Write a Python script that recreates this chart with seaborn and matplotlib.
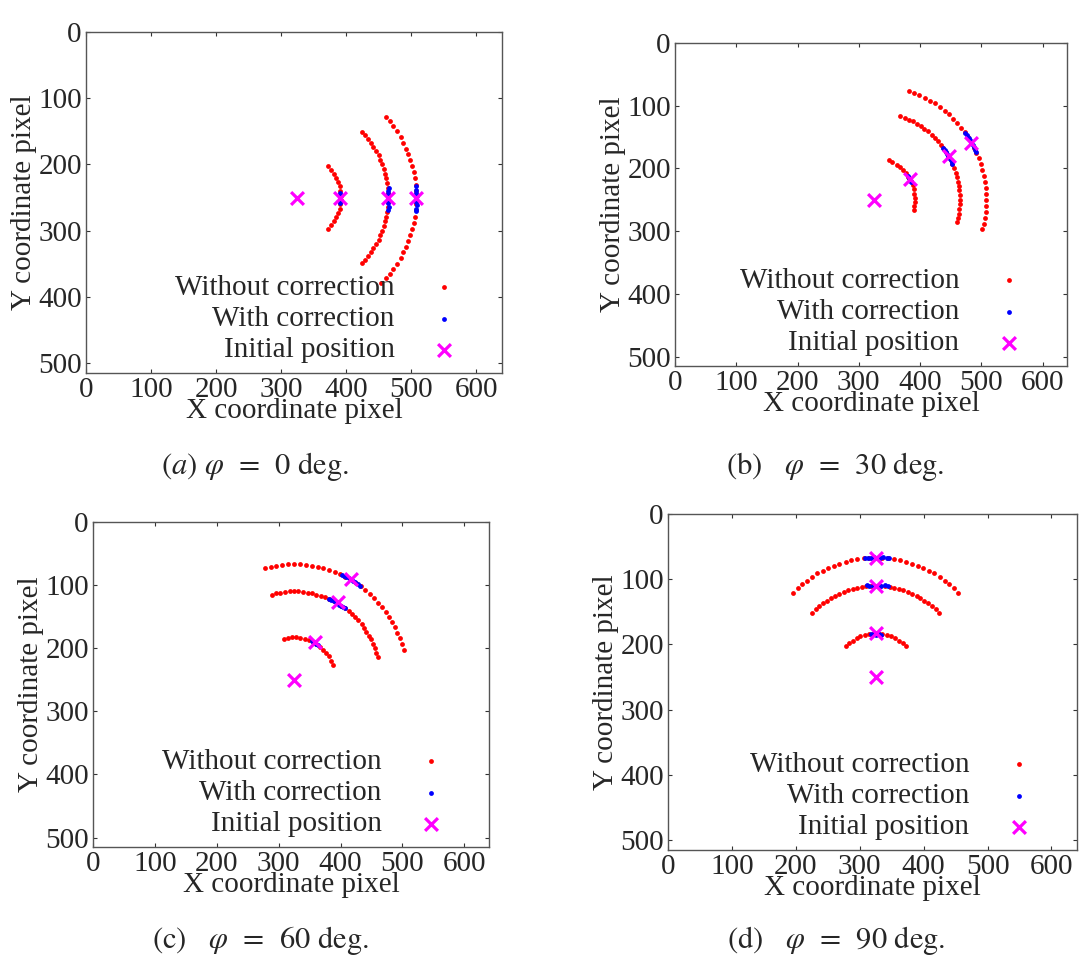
import matplotlib
matplotlib.use("Agg")
import matplotlib.pyplot as plt
import seaborn as sns

# ---------------- data (pixel coordinates) ----------------
x_ticks = [0, 100, 200, 300, 400, 500, 600]
y_ticks = [0, 100, 200, 300, 400, 500]
x_max = 640
y_max = 515

series_labels = ["Without correction", "With correction", "Initial position"]
captions = [r"$(a)$ $\varphi$  =  0 deg.", r"(b)   $\varphi$  =  30 deg.",
            r"(c)   $\varphi$  =  60 deg.", r"(d)   $\varphi$  =  90 deg."]

# panel (a) phi = 0
a_wo_x = [461, 467, 473, 479, 484, 488, 492, 496, 499, 502, 504, 506, 507, 508, 508, 508, 507, 506, 504, 502,
          499, 496, 492, 488, 484, 479, 473, 467, 461, 454,
          424, 429, 434, 438, 442, 446, 450, 453, 456, 458, 460, 462, 463, 464, 465, 465, 465, 464, 463, 462,
          460, 458, 456, 453, 450, 446, 442, 438, 434, 429, 424,
          372, 377, 381, 385, 388, 390, 391, 392, 392, 391, 390, 388, 385, 381, 377, 372]
a_wo_y = [128, 135, 142, 150, 158, 167, 176, 184, 193, 203, 212, 221, 231, 240, 250, 260, 269, 279, 288, 297,
          307, 316, 324, 333, 342, 350, 358, 365, 372, 379,
          151, 156, 162, 168, 174, 180, 186, 193, 200, 207, 214, 221, 228, 235, 243, 250, 257, 265, 272, 279,
          286, 293, 300, 307, 314, 320, 326, 332, 338, 344, 349,
          203, 208, 214, 220, 226, 233, 240, 247, 253, 260, 267, 274, 280, 286, 292, 297]
a_w_x = [507, 508, 508, 509, 508, 508, 509, 508, 507,
         466, 465, 465, 464, 465, 465, 466, 465,
         391, 391, 390, 391, 390]
a_w_y = [233, 238, 243, 247, 252, 257, 262, 267, 271,
         236, 240, 245, 249, 254, 259, 264, 269,
         243, 247, 251, 255, 258]
a_init_x = [325, 390, 465, 508]
a_init_y = [250, 250, 250, 250]

# panel (b) phi = 30
b_wo_x = [382, 391, 399, 408, 417, 425, 433, 440, 447, 454, 461, 467, 473, 479, 484, 488, 492, 496, 499, 502,
          504, 506, 507, 508, 508, 508, 507, 506, 504, 502,
          368, 375, 382, 389, 395, 401, 407, 413, 419, 424, 429, 434, 438, 442, 446, 450, 453, 456, 458, 460,
          462, 463, 464, 465, 465, 465, 464, 463, 462, 460,
          349, 355, 362, 367, 372, 377, 381, 385, 388, 390, 391, 392, 392, 391, 390]
b_wo_y = [76, 79, 83, 87, 92, 96, 102, 108, 114, 121, 128, 135, 142, 150, 158, 167, 176, 184, 193, 203,
          212, 221, 231, 240, 250, 260, 269, 279, 288, 297,
          117, 119, 122, 125, 129, 133, 137, 141, 146, 151, 156, 162, 168, 174, 180, 186, 193, 200, 207, 214,
          221, 228, 235, 243, 250, 257, 265, 272, 279, 286,
          187, 190, 194, 198, 203, 208, 214, 220, 226, 233, 240, 247, 253, 260, 267]
b_w_x = [474, 477, 480, 482, 484, 486, 488, 490, 491,
         438, 440, 442, 444, 446, 448, 450, 452, 453,
         380, 382, 384, 386]
b_w_y = [143, 147, 151, 155, 158, 162, 166, 170, 173,
         168, 171, 174, 177, 180, 183, 186, 190, 193,
         212, 215, 218, 221]
b_init_x = [325, 384, 447, 484]
b_init_y = [250, 217, 180, 160]

# panel (c) phi = 60
c_wo_x = [502, 499, 496, 492, 488, 483, 479, 473, 467, 461, 454, 447, 440, 433, 425, 417, 408, 399, 391, 382,
          372, 363, 354, 344, 335, 325, 315, 306, 296, 287, 278,
          460, 458, 456, 453, 450, 446, 442, 438, 434, 429, 424, 419, 413, 407, 401, 395, 389, 382, 375, 368,
          361, 354, 347, 340, 332, 325, 318, 310, 303, 296, 289,
          388, 385, 381, 377, 372, 367, 361, 355, 349, 342, 335, 328, 322, 315, 308]
c_wo_y = [203, 193, 184, 176, 167, 158, 150, 142, 135, 128, 121, 114, 108, 102, 96, 91, 87, 83, 79, 76,
          73, 71, 69, 68, 67, 67, 67, 68, 69, 71, 73,
          214, 207, 200, 193, 186, 180, 174, 168, 162, 156, 151, 146, 141, 137, 133, 129, 125, 122, 119, 117,
          115, 113, 112, 111, 110, 110, 110, 111, 112, 113, 115,
          226, 220, 213, 208, 203, 198, 194, 190, 187, 185, 184, 183, 183, 184, 185]
c_w_x = [432, 428, 424, 420, 417, 413, 409, 405, 402,
         407, 404, 401, 398, 395, 392, 389, 385, 382,
         363, 360, 357, 354]
c_w_y = [101, 98, 95, 93, 91, 89, 87, 85, 84,
         137, 135, 133, 131, 129, 127, 125, 123, 122,
         195, 193, 191, 189]
c_init_x = [325, 358, 396, 417]
c_init_y = [250, 190, 126, 91]

# panel (d) phi = 90
d_wo_x = [196, 203, 210, 217, 225, 233, 242, 251, 259, 268, 278, 287, 296, 306, 315, 325, 335, 344, 354, 363,
          372, 382, 391, 399, 408, 417, 425, 433, 440, 447, 454,
          226, 231, 237, 243, 249, 255, 261, 268, 275, 282, 289, 296, 303, 310, 318, 325, 332, 340, 347, 354,
          361, 368, 375, 382, 389, 395, 401, 407, 413, 419, 424,
          278, 283, 289, 295, 301, 308, 315, 322, 328, 335, 342, 349, 355, 361, 367, 372]
d_wo_y = [121, 114, 108, 102, 96, 91, 87, 83, 79, 76, 73, 71, 69, 68, 67, 67, 67, 68, 69, 71,
          73, 76, 79, 83, 87, 91, 96, 102, 108, 114, 121,
          151, 146, 141, 137, 133, 129, 125, 122, 119, 117, 115, 113, 112, 111, 110, 110, 110, 111, 112, 113,
          115, 117, 119, 122, 125, 129, 133, 137, 141, 146, 151,
          203, 198, 194, 190, 187, 185, 184, 183, 183, 184, 185, 187, 190, 194, 198, 203]
d_w_x = [308, 313, 318, 322, 327, 332, 337, 342, 346,
         311, 315, 320, 324, 329, 334, 339, 344,
         318, 322, 326, 330, 333]
d_w_y = [68, 67, 67, 66, 67, 67, 66, 67, 68,
         109, 110, 110, 111, 110, 110, 109, 110,
         184, 184, 185, 184, 185]
d_init_x = [325, 325, 325, 326]
d_init_y = [250, 182, 110, 68]

# ---------------- style ----------------
sns.set_style("ticks")
plt.rcParams["font.family"] = ["Liberation Serif", "DejaVu Serif"]
plt.rcParams["mathtext.fontset"] = "stix"

fig = plt.figure(figsize=(10.79, 9.59), dpi=100)

# axes rectangles in figure fractions (left, bottom, width, height)
rects = [(86 / 1079, 1 - 373 / 959, 416 / 1079, 341 / 959),
         (675 / 1079, 1 - 366 / 959, 392 / 1079, 323 / 959),
         (93 / 1079, 1 - 847 / 959, 396 / 1079, 325 / 959),
         (668 / 1079, 1 - 850 / 959, 409 / 1079, 336 / 959)]

panels = [(a_wo_x, a_wo_y, a_w_x, a_w_y, a_init_x, a_init_y),
          (b_wo_x, b_wo_y, b_w_x, b_w_y, b_init_x, b_init_y),
          (c_wo_x, c_wo_y, c_w_x, c_w_y, c_init_x, c_init_y),
          (d_wo_x, d_wo_y, d_w_x, d_w_y, d_init_x, d_init_y)]

cap_pos = [(255 / 1079, 1 - 474 / 959), (835 / 1079, 1 - 474 / 959),
           (260 / 1079, 1 - 948 / 959), (836 / 1079, 1 - 948 / 959)]

FS = 21
for rect, (wox, woy, wx, wy, ix, iy), cap, cp in zip(rects, panels, captions, cap_pos):
    ax = fig.add_axes(rect)
    w_px = rect[2] * 1079
    h_px = rect[3] * 959
    sns.scatterplot(x=wox, y=woy, ax=ax, color="#ff0000", s=12, linewidth=0,
                    marker="o", label=series_labels[0], zorder=2)
    sns.scatterplot(x=wx, y=wy, ax=ax, color="#0000ff", s=12, linewidth=0,
                    marker="o", label=series_labels[1], zorder=3)
    sns.scatterplot(x=ix, y=iy, ax=ax, color="#ff00ff", s=85, linewidth=2.3,
                    marker="x", label=series_labels[2], zorder=4)
    ax.set_xlim(0, x_max)
    ax.set_ylim(y_max, 0)
    ax.set_xticks(x_ticks)
    ax.set_yticks(y_ticks)
    ax.tick_params(direction="in", length=3, width=0.8, labelsize=FS, pad=3,
                   top=True, right=True, color="#333333")
    for sp in ax.spines.values():
        sp.set_color("#555555")
        sp.set_linewidth(1.0)
    ax.set_xlabel("X coordinate pixel", fontsize=FS, labelpad=-4)
    ax.set_ylabel("Y coordinate pixel", fontsize=FS, labelpad=1)
    leg = ax.legend(loc="lower right", markerfirst=False, frameon=False, fontsize=FS,
                    handletextpad=0.7, handlelength=2.0, labelspacing=0.16,
                    borderaxespad=0, borderpad=0.3,
                    bbox_to_anchor=(1 - 20 / w_px, 1 / h_px))
    fig.text(cp[0], cp[1], cap, fontsize=22, family="STIXGeneral",
             ha="center", va="baseline")

fig.savefig("out.png", dpi=100)
